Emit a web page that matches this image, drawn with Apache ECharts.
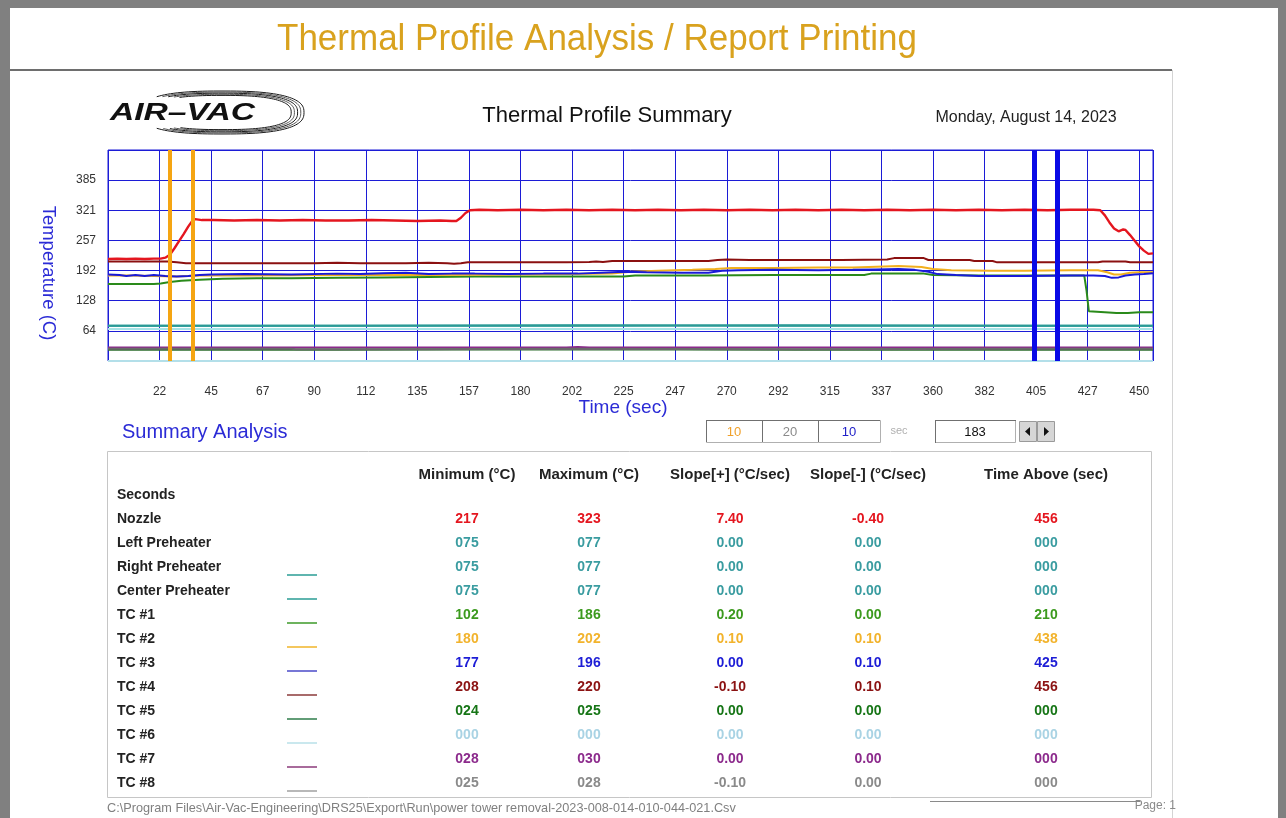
<!DOCTYPE html>
<html>
<head>
<meta charset="utf-8">
<title>Thermal Profile Analysis / Report Printing</title>
<script src="https://cdn.jsdelivr.net/npm/echarts@6.0.0/dist/echarts.min.js"></script>
<style>
  html, body { margin: 0; padding: 0; background: #808080; }
  #sheet { position: absolute; left: 10px; top: 8px; width: 1268px; height: 810px; background: #ffffff; }
  #chart { position: absolute; left: 0; top: 0; width: 1286px; height: 818px; }
</style>
</head>
<body>
<div id="sheet"></div>
<div id="chart"></div>
<script>
// ---- axis ticks ----
const xTickLabels = ['22','45','67','90','112','135','157','180','202','225','247','270','292','315','337','360','382','405','427','450'];
const yTickLabels = ['64','128','192','257','321','385'];
const xStep = 22.5;
const yStep = 64.1667;

// ---- cursor positions (sec) ----
const orangeCursors = [27, 37];
const blueCursors = [404, 414];

// ---- temperature traces: [time (sec), temperature (C)] ----
const nozzleTemp = [[0,217],[4,218],[8,217],[12,218],[16,217],[20,218],[23,218],[25,220],[27,226],[29,240],[31,255],[33,270],[35,286],[37,300],[38,302],[41,300],[46,300],[55,299],[65,300],[75,299],[85,300],[95,299],[105,299],[115,300],[125,299],[135,298],[145,299],[150,298],[152,298],[154,305],[156,315],[158,321],[162,322],[170,321],[180,322],[190,321],[200,322],[210,321],[220,322],[230,321],[240,322],[250,321],[260,322],[270,321],[280,322],[290,321],[300,322],[310,321],[320,322],[330,321],[340,322],[350,321],[360,322],[370,321],[380,322],[390,321],[400,322],[410,321],[420,322],[430,322],[433,321],[435,310],[437,295],[439,282],[441,276],[443,280],[444,279],[446,268],[448,256],[450,244],[452,235],[454,228],[456,229]];
const tc4Temp = [[0,212],[10,212],[20,212],[26,212],[30,210],[34,208],[50,208],[70,208],[90,208],[100,209],[110,208],[130,208],[140,209],[148,208],[151,207],[154,208],[157,210],[180,210],[200,210],[210,211],[213,212],[216,211],[220,213],[240,213],[262,213],[266,215],[270,216],[280,215],[300,215],[320,215],[340,216],[343,219],[356,219],[358,215],[376,215],[378,213],[386,213],[388,210],[410,210],[432,210],[434,212],[444,212],[446,210],[456,210]];
const tc3Temp = [[0,184],[5,183],[8,181],[12,183],[16,181],[20,183],[25,181],[30,180],[35,181],[40,183],[45,184],[60,185],[80,184],[100,186],[110,185],[120,187],[130,188],[140,185],[150,186],[160,186],[175,185],[190,186],[205,186],[215,188],[225,190],[235,189],[250,188],[262,188],[268,192],[275,193],[290,194],[310,193],[325,194],[335,195],[345,196],[352,194],[358,190],[362,185],[370,183],[380,181],[400,181],[420,182],[430,182],[435,181],[438,177],[441,178],[444,182],[448,184],[452,185],[456,187]];
const tc2Temp = [[0,182],[10,182],[20,181],[30,180],[40,182],[60,182],[100,183],[140,183],[180,184],[200,185],[220,186],[228,190],[240,192],[255,194],[265,196],[272,198],[290,198],[310,199],[325,199],[332,200],[345,202],[355,200],[360,196],[368,193],[385,192],[400,192],[420,193],[432,193],[436,189],[439,184],[442,184],[446,188],[450,189],[456,189]];
const tc1Temp = [[0,164],[10,164],[20,164],[23,165],[27,168],[32,171],[40,173],[50,175],[65,176],[80,176],[100,177],[120,178],[140,179],[160,180],[190,180],[210,180],[225,180],[230,182],[260,182],[290,183],[320,183],[330,183],[333,186],[350,186],[356,186],[360,183],[380,182],[410,182],[426,182],[427,150],[428,106],[435,104],[440,102],[445,102],[450,104],[456,104]];
const rightPreTemp = [[0,75],[100,75],[200,76],[300,75],[400,75],[456,75]];
const centerPreTemp = [[0,75],[100,75],[200,75],[300,76],[400,75],[456,75]];
const leftPreTemp = [[0,68],[200,68],[456,68]];
const tc5Temp = [[0,24],[100,24],[200,25],[300,24],[456,24]];
const tc6Temp = [[0,0],[456,0]];
const tc7Temp = [[0,29],[200,29],[205,30],[210,29],[456,29]];
const tc8Temp = [[0,26],[80,26],[82,25],[140,25],[200,26],[300,25],[400,26],[456,26]];

// ---- summary table ----
const rowNames = ['Nozzle','Left Preheater','Right Preheater','Center Preheater','TC #1','TC #2','TC #3','TC #4','TC #5','TC #6','TC #7','TC #8'];
const minVals = ['217','075','075','075','102','180','177','208','024','000','028','025'];
const maxVals = ['323','077','077','077','186','202','196','220','025','000','030','028'];
const slopeUp = ['7.40','0.00','0.00','0.00','0.20','0.10','0.00','-0.10','0.00','0.00','0.00','-0.10'];
const slopeDown = ['-0.40','0.00','0.00','0.00','0.00','0.10','0.10','0.10','0.00','0.00','0.00','0.00'];
const timeAbove = ['456','000','000','000','210','438','425','456','000','000','000','000'];
const valueColors = ['#e4161f','#3a9ca0','#3a9ca0','#3a9ca0','#3c9a1e','#f2b32c','#1d1dd6','#8b1212','#167516','#a9d3e4','#8c2a8c','#8a8a8a'];
const legendColors = [null,null,'#2a9d94','#2a9d94','#3c9a28','#f0b429','#4a4ac8','#8b3a3a','#2e7d4a','#b8e0e8','#8b3a7a','#a0a0a0'];
const headers = ['Minimum (°C)','Maximum (°C)','Slope[+] (°C/sec)','Slope[-] (°C/sec)','Time Above (sec)'];

const SANS = "'Liberation Sans', Arial, sans-serif";

function text(x, y, str, font, fill, align, extra) {
  return Object.assign({
    type: 'text', x: x, y: y, silent: true,
    style: { text: str, font: font, fill: fill, align: align || 'left', verticalAlign: 'middle' }
  }, extra || {});
}
function line(x1, y1, x2, y2, color, w) {
  return { type: 'line', silent: true, shape: { x1: x1, y1: y1, x2: x2, y2: y2 }, style: { stroke: color, lineWidth: w } };
}
function rect(x, y, w, h, fill, stroke, lw) {
  return { type: 'rect', silent: true, shape: { x: x, y: y, width: w, height: h }, style: { fill: fill, stroke: stroke, lineWidth: lw || 1 } };
}

const g = [];
// page title band
g.push(text(597, 40, 'Thermal Profile Analysis / Report Printing', '35px ' + SANS, '#d9a21e', 'center', { scaleY: 1.08 }));
g.push(line(10, 70, 1172, 70, '#6e6e6e', 2));
g.push(line(1172.5, 70, 1172.5, 818, '#d4d4d4', 1));

// logo: rounded swoosh rings around the lettering
function swoosh(cx, cy, rx, ry, n, from, to) {
  const pts = [];
  for (let d = from; d <= to; d += 3) {
    const a = d * Math.PI / 180, c = Math.cos(a), s = Math.sin(a);
    pts.push([cx + rx * Math.sign(c) * Math.pow(Math.abs(c), 2 / n), cy + ry * Math.sign(s) * Math.pow(Math.abs(s), 2 / n)]);
  }
  return pts;
}
for (let k = 0; k < 5; k++) {
  const pts = swoosh(222, 112.5, 82 - 3.2 * k, 21.5 - 1.1 * k, 2.6, -138 + 4 * k, 138 - 4 * k);
  g.push({ type: 'polyline', silent: true, shape: { points: pts }, style: { fill: null, stroke: k % 2 ? '#555' : '#1a1a1a', lineWidth: 1 } });
}
g.push(text(110, 113, 'AIR–VAC', 'italic bold 24px ' + SANS, '#111', 'left', { scaleX: 1.4 }));

g.push(text(607, 116, 'Thermal Profile Summary', '22px ' + SANS, '#111', 'center'));
g.push(text(1026, 118, 'Monday, August 14, 2023', '16px ' + SANS, '#222', 'center'));

// axis titles
g.push(text(48, 273, 'Temperature (C)', '18.5px ' + SANS, '#2b2bd6', 'center', { rotation: -Math.PI / 2 }));
g.push(text(623, 408, 'Time (sec)', '19px ' + SANS, '#2b2bd6', 'center'));

// summary heading and cursor controls
g.push(text(122, 432, 'Summary Analysis', '20px ' + SANS, '#2b2bd6', 'left'));
const boxes = [[706, 56, '10', '#f0a02a'], [762, 56, '20', '#8a8a8a'], [818, 62, '10', '#2020c8']];
boxes.forEach(function (b) {
  g.push(rect(b[0] + 0.5, 420.5, b[1], 22, '#fff', '#b0b0b0', 1));
  g.push(line(b[0], 420.5, b[0] + b[1], 420.5, '#707070', 1));
  g.push(line(b[0] + 0.5, 420, b[0] + 0.5, 442, '#707070', 1));
  g.push(text(b[0] + b[1] / 2, 432, b[2], '13px ' + SANS, b[3], 'center'));
});
g.push(text(899, 431, 'sec', '11px ' + SANS, '#b0b0b0', 'center'));
g.push(rect(935.5, 420.5, 80, 22, '#fff', '#b0b0b0', 1));
g.push(line(935, 420.5, 1016, 420.5, '#707070', 1));
g.push(line(935.5, 420, 935.5, 443, '#707070', 1));
g.push(text(975, 432, '183', '13px ' + SANS, '#111', 'center'));
g.push(rect(1019.5, 421.5, 17, 20, '#d6d6d6', '#9a9a9a', 1));
g.push(rect(1037.5, 421.5, 17, 20, '#d6d6d6', '#9a9a9a', 1));
g.push({ type: 'polygon', silent: true, shape: { points: [[1025, 431.5], [1030, 427], [1030, 436]] }, style: { fill: '#111' } });
g.push({ type: 'polygon', silent: true, shape: { points: [[1049, 431.5], [1044, 427], [1044, 436]] }, style: { fill: '#111' } });

// summary table
g.push(rect(107.5, 451.5, 1044, 346, '#fff', '#c6c6c6', 1));
const colX = [467, 589, 730, 868, 1046];
headers.forEach(function (h, i) { g.push(text(colX[i], 475, h, 'bold 15px ' + SANS, '#222', 'center')); });
g.push(text(117, 495, 'Seconds', 'bold 14px ' + SANS, '#222', 'left'));
rowNames.forEach(function (name, i) {
  const y = 519 + 24 * i;
  g.push(text(117, y, name, 'bold 14px ' + SANS, '#222', 'left'));
  if (legendColors[i]) g.push(line(287, y + 8, 317, y + 8, legendColors[i], 1.5));
  const cells = [minVals[i], maxVals[i], slopeUp[i], slopeDown[i], timeAbove[i]];
  cells.forEach(function (c, j) {
    g.push(text(colX[j], y, c, 'bold 14px ' + SANS, valueColors[i], 'center', { scaleY: 1.08 }));
  });
});

// footer
g.push(text(107, 808, 'C:\\Program Files\\Air-Vac-Engineering\\DRS25\\Export\\Run\\power tower removal-2023-008-014-010-044-021.Csv', '12.7px ' + SANS, '#808080', 'left'));
g.push(line(930, 801.5, 1140, 801.5, '#8a8a8a', 1));
g.push(text(1176, 806, 'Page: 1', '12px ' + SANS, '#8a8a8a', 'right'));

// ---- traces ----
const traces = [
  { name: 'TC #6', data: tc6Temp, color: '#b3dfe9' },
  { name: 'TC #7', data: tc7Temp, color: '#8b2b8b' },
  { name: 'TC #5', data: tc5Temp, color: '#2e6e2e' },
  { name: 'TC #8', data: tc8Temp, color: '#6a6a6a' },
  { name: 'Left Preheater', data: leftPreTemp, color: '#a6e3e6' },
  { name: 'Right Preheater', data: rightPreTemp, color: '#2a9a96' },
  { name: 'Center Preheater', data: centerPreTemp, color: '#2a9a96' },
  { name: 'TC #1', data: tc1Temp, color: '#2a8a1a' },
  { name: 'TC #2', data: tc2Temp, color: '#f2b01e' },
  { name: 'TC #3', data: tc3Temp, color: '#1a1ad8' },
  { name: 'TC #4', data: tc4Temp, color: '#8b1010' },
  { name: 'Nozzle', data: nozzleTemp, color: '#e4161f' }
];
const series = traces.map(function (t) {
  return { name: t.name, type: 'line', data: t.data, showSymbol: false, silent: true,
           lineStyle: { color: t.color, width: t.name === 'Nozzle' ? 2.4 : 2 }, itemStyle: { color: t.color } };
});
const cursorMarks = orangeCursors.map(function (v) { return { xAxis: v, lineStyle: { color: '#f5a512', width: 4, type: 'solid' } }; })
  .concat(blueCursors.map(function (v) { return { xAxis: v, lineStyle: { color: '#0a0ae6', width: 5, type: 'solid' } }; }));
series.push({ name: 'cursors', type: 'line', data: [], silent: true,
  markLine: { silent: true, symbol: 'none', label: { show: false }, animation: false, data: cursorMarks } });

const chart = echarts.init(document.getElementById('chart'), null, { renderer: 'canvas' });
chart.setOption({
  animation: false,
  grid: { left: 108, right: 133, top: 150, bottom: 457, show: true, borderColor: '#1c1cd6', borderWidth: 1, backgroundColor: '#fff' },
  xAxis: {
    type: 'value', min: 0, max: 456, interval: xStep,
    axisLine: { show: false }, axisTick: { show: false },
    splitLine: { show: true, lineStyle: { color: '#1c1cd6', width: 1 } },
    axisLabel: { margin: 25, fontSize: 12, color: '#333', fontFamily: SANS, showMinLabel: false, showMaxLabel: false,
      formatter: function (v) { const i = Math.round(v / xStep) - 1; return xTickLabels[i] || ''; } }
  },
  yAxis: {
    type: 'value', min: 0, max: yStep * 7, interval: yStep,
    axisLine: { show: false }, axisTick: { show: false },
    splitLine: { show: true, lineStyle: { color: '#1c1cd6', width: 1 } },
    axisLabel: { margin: 12, fontSize: 12, color: '#333', fontFamily: SANS, showMinLabel: false, showMaxLabel: false,
      formatter: function (v) { const i = Math.round(v / yStep) - 1; return yTickLabels[i] || ''; } }
  },
  series: series,
  graphic: { elements: g }
});
</script>
</body>
</html>
